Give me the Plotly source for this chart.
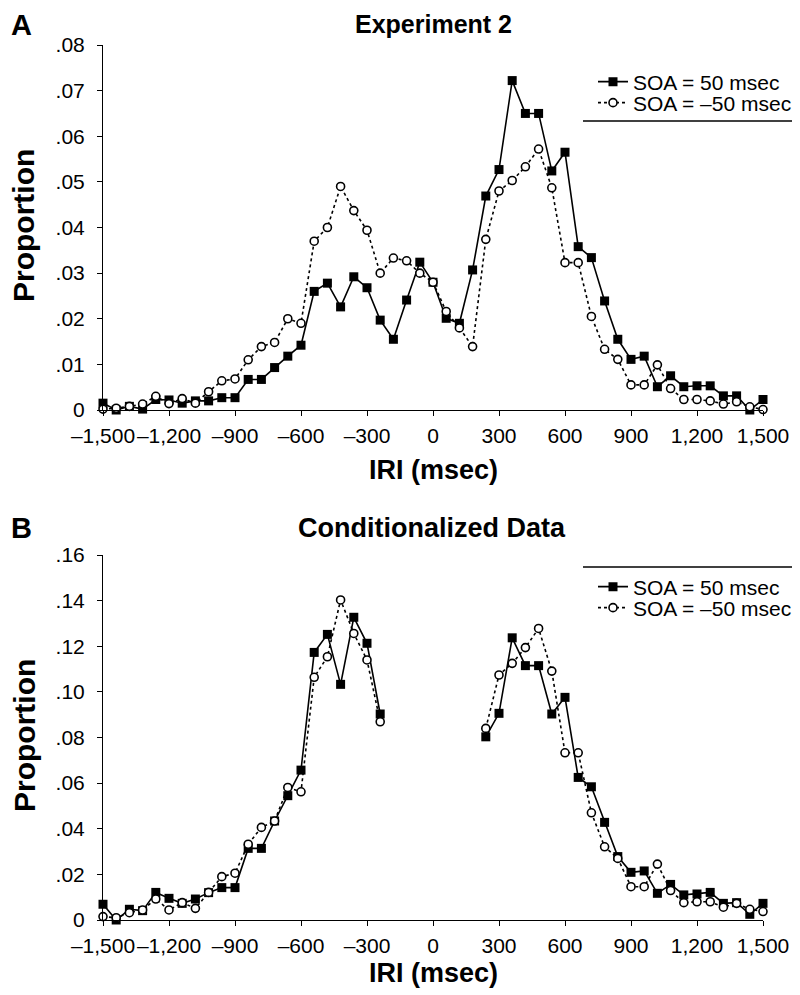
import plotly.graph_objects as go

# ---------------- data ----------------
iri = list(range(-1500, 1501, 60))  # 51 bins

# Panel A: Experiment 2
a_soa_pos50 = [0.0015, 0.0, 0.0008, 0.0002, 0.0023, 0.0022, 0.0015, 0.002, 0.002, 0.0027,
               0.0027, 0.0067, 0.0067, 0.0093, 0.0118, 0.0142, 0.026, 0.0278, 0.0226, 0.0292,
               0.0268, 0.0197, 0.0155, 0.0241, 0.0324, 0.028, 0.0201, 0.019, 0.0307, 0.0469,
               0.0527, 0.0722, 0.065, 0.065, 0.0524, 0.0565, 0.0358, 0.0334, 0.0239, 0.0155,
               0.0111, 0.0118, 0.0051, 0.0075, 0.0051, 0.0053, 0.0053, 0.0031, 0.0031, 0.0,
               0.0023]
a_soa_neg50 = [0.0002, 0.0004, 0.0008, 0.0013, 0.003, 0.0014, 0.0025, 0.0015, 0.004, 0.0064,
               0.0068, 0.011, 0.0139, 0.0148, 0.020, 0.019, 0.037, 0.040, 0.049, 0.0437,
               0.0394, 0.030, 0.0333, 0.0327, 0.030, 0.028, 0.0216, 0.018, 0.0139, 0.0374,
               0.048, 0.0503, 0.0533, 0.0572, 0.0487, 0.0323, 0.0323, 0.0205, 0.0133, 0.0111,
               0.0055, 0.0055, 0.0099, 0.0047, 0.0023, 0.0023, 0.002, 0.0013, 0.0018, 0.0007,
               0.0001]

# Panel B: Conditionalized data (no data between -180 and 180 msec)
b_soa_pos50 = [0.0069, 0.0, 0.0047, 0.0041, 0.0121, 0.0095, 0.0073, 0.0092, 0.012, 0.0142,
               0.0142, 0.0314, 0.0314, 0.0434, 0.0545, 0.0657, 0.1173, 0.1252, 0.1033, 0.1327,
               0.1213, 0.0903, None, None, None, None, None, None, None, 0.0803,
               0.0906, 0.1237, 0.1115, 0.1115, 0.0903, 0.0976, 0.0625, 0.0584, 0.0428, 0.0278,
               0.0209, 0.0215, 0.0117, 0.0156, 0.011, 0.0114, 0.0121, 0.0073, 0.0076, 0.0025,
               0.0073]
b_soa_neg50 = [0.0015, 0.001, 0.0032, 0.0044, 0.0092, 0.0044, 0.0076, 0.0051, 0.0121, 0.019,
               0.0205, 0.0332, 0.0406, 0.0434, 0.0581, 0.0562, 0.1064, 0.1154, 0.1403, 0.1256,
               0.114, 0.0869, None, None, None, None, None, None, None, 0.084,
               0.1074, 0.1125, 0.1194, 0.1278, 0.1091, 0.0733, 0.0733, 0.047, 0.0321, 0.027,
               0.0146, 0.0146, 0.0245, 0.0129, 0.0076, 0.008, 0.008, 0.0056, 0.0073, 0.0047,
               0.0037]

x_ticks = list(range(-1500, 1501, 300))
x_ticktext = ["\u20131,500", "\u20131,200", "\u2013900", "\u2013600", "\u2013300", "0",
              "300", "600", "900", "1,200", "1,500"]
a_yticks = [0, 0.01, 0.02, 0.03, 0.04, 0.05, 0.06, 0.07, 0.08]
a_yticktext = ["0", ".01", ".02", ".03", ".04", ".05", ".06", ".07", ".08"]
b_yticks = [0, 0.02, 0.04, 0.06, 0.08, 0.10, 0.12, 0.14, 0.16]
b_yticktext = ["0", ".02", ".04", ".06", ".08", ".10", ".12", ".14", ".16"]

label_pos = "SOA = 50 msec"
label_neg = "SOA = \u201350 msec"

# ---------------- figure ----------------
# the page body has an 8 px margin, so the figure is placed 8 px in and made 8 px smaller
OFF = 8
W, H = 800 - OFF, 995 - OFF
FONT = "Liberation Sans, Arial, Helvetica, sans-serif"


def px_x(p):
    return (p - OFF) / W


def px_y(p):
    return 1 - (p - OFF) / H


fig = go.Figure()

sq = dict(symbol="square", size=9, color="black")
circ = dict(symbol="circle", size=8, color="white", line=dict(color="black", width=1.6))

for xa, ya, ypos, yneg, lp, ln in [("x", "y", a_soa_pos50, a_soa_neg50, "legend", "legend2"),
                                    ("x2", "y2", b_soa_pos50, b_soa_neg50, "legend3", "legend4")]:
    fig.add_trace(go.Scatter(x=iri, y=ypos, xaxis=xa, yaxis=ya, mode="lines+markers",
                             name=label_pos, legend=lp, cliponaxis=False, showlegend=True,
                             line=dict(color="black", width=1.6), marker=sq,
                             connectgaps=False))
    fig.add_trace(go.Scatter(x=iri, y=yneg, xaxis=xa, yaxis=ya, mode="lines+markers",
                             name=label_neg, legend=ln, cliponaxis=False, showlegend=True,
                             line=dict(color="black", width=1.6, dash="dot"), marker=circ,
                             connectgaps=False))

axis_common = dict(showline=True, linecolor="black", linewidth=1, ticks="outside",
                   ticklen=5, tickwidth=1, tickcolor="black", showgrid=False, zeroline=False,
                   automargin=False,
                   tickfont=dict(family=FONT, size=21, color="black"))

x_dom = [px_x(103), px_x(763)]
leg_common = dict(xanchor="left", yanchor="middle", bgcolor="rgba(0,0,0,0)",
                  font=dict(family=FONT, size=21, color="black"), itemwidth=30)
LEG_X = px_x(593)

fig.update_layout(
    width=W, height=H, margin=dict(l=0, r=0, t=0, b=0, autoexpand=False),
    paper_bgcolor="white", plot_bgcolor="white", showlegend=True,
    font=dict(family=FONT, color="black"),
    xaxis=dict(domain=x_dom, range=[-1500, 1500], anchor="y", tickvals=x_ticks,
               ticktext=x_ticktext, tickangle=0, ticklabelstandoff=2, **axis_common),
    yaxis=dict(domain=[px_y(410), px_y(45)], range=[0, 0.08], anchor="x",
               tickvals=a_yticks, ticktext=a_yticktext, ticklabelstandoff=8, **axis_common),
    xaxis2=dict(domain=x_dom, range=[-1500, 1500], anchor="y2", tickvals=x_ticks,
                ticktext=x_ticktext, tickangle=0, ticklabelstandoff=2, **axis_common),
    yaxis2=dict(domain=[px_y(920), px_y(555)], range=[0, 0.16], anchor="x2",
                tickvals=b_yticks, ticktext=b_yticktext, ticklabelstandoff=8, **axis_common),
    legend=dict(x=LEG_X, y=px_y(82), **leg_common),
    legend2=dict(x=LEG_X, y=px_y(103), **leg_common),
    legend3=dict(x=LEG_X, y=px_y(587), **leg_common),
    legend4=dict(x=LEG_X, y=px_y(608), **leg_common),
)

# Legend rules
fig.add_shape(type="line", xref="paper", yref="paper", x0=px_x(583), x1=px_x(800),
              y0=px_y(121), y1=px_y(121), line=dict(color="black", width=1.5))
fig.add_shape(type="line", xref="paper", yref="paper", x0=px_x(583), x1=px_x(800),
              y0=px_y(567), y1=px_y(567), line=dict(color="black", width=1.5))


# Text annotations
def ann(text, x, y, size, bold=True, angle=0, xanchor="center"):
    fig.add_annotation(text=f"<b>{text}</b>" if bold else text, xref="paper", yref="paper",
                       x=px_x(x), y=px_y(y), showarrow=False, xanchor=xanchor,
                       yanchor="middle", textangle=angle,
                       font=dict(family=FONT, size=size, color="black"))


ann("A", 21, 25, 29)
ann("B", 21, 528, 29)
ann("Experiment 2", 433, 24, 25)
ann("Conditionalized Data", 432, 528, 27)
ann("IRI (msec)", 433, 470, 27)
ann("IRI (msec)", 433, 973, 27)
ann("Proportion", 24, 226, 30, angle=-90)
ann("Proportion", 24, 736, 30, angle=-90)

fig.write_html("out.html")
